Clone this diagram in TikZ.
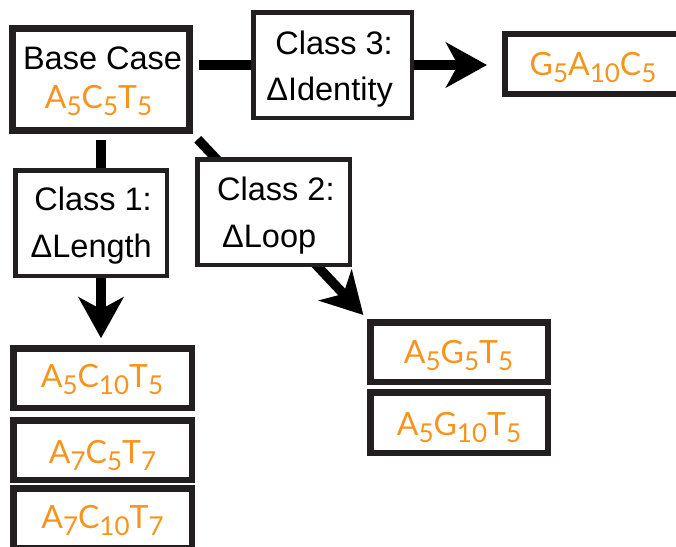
\documentclass[tikz,border=0pt]{standalone}
\usepackage{fontspec}
\setmainfont{Liberation Sans}
\newfontfamily\seqfont{Lato}
\usetikzlibrary{arrows.meta}
\definecolor{seqorange}{RGB}{247,148,29}
\definecolor{boxblack}{RGB}{35,31,32}
\newcommand\sq[1]{\raisebox{-7pt}{\fontsize{26}{26}\selectfont #1}}
\tikzset{
  boxthick/.style={draw=boxblack, line width=7pt, fill=white, inner sep=0pt, outer sep=0pt},
  boxthin/.style={draw=boxblack, line width=4.5pt, fill=white, inner sep=0pt, outer sep=0pt},
  boxseq/.style={draw=boxblack, line width=6.5pt, fill=white, inner sep=0pt, outer sep=0pt},
  lab/.style={inner sep=0pt, font=\fontsize{32.5}{32.5}\selectfont, text=black},
  seq/.style={inner sep=0pt, font=\seqfont\fontsize{32}{32}\selectfont, text=seqorange},
  conn/.style={line width=9.5pt, draw=black},
  arr/.style={conn, -{Stealth[length=41pt, width=45pt, inset=12pt]}},
}
\begin{document}
\begin{tikzpicture}[x=1pt, y=-1pt]
\useasboundingbox (0,0) rectangle (676,546);
\path[clip] (0,0) rectangle (676,546);
% boxes
\node[boxthick, minimum width=177pt, minimum height=102pt] (base) at (101,79.5) {};
\node[boxthin, minimum width=158.5pt, minimum height=105.5pt] (c3) at (332.5,65) {};
\node[boxseq, line width=6pt, minimum width=182pt, minimum height=60pt] (g) at (596,64) {};
\node[boxthin, minimum width=151.5pt, minimum height=105.5pt] (c1) at (91,223) {};
\node[boxthin, minimum width=152.5pt, minimum height=105.5pt] (c2) at (273.5,212) {};
\node[boxseq, minimum width=178.5pt, minimum height=59.5pt] (a1) at (102.5,378) {};
\node[boxseq, minimum width=178.5pt, minimum height=59.5pt] (a2) at (102.5,450) {};
\node[boxseq, minimum width=178.5pt, minimum height=59.5pt] (a3) at (102.5,518) {};
\node[boxseq, minimum width=177.5pt, minimum height=59.5pt] (b1) at (459,352) {};
\node[boxseq, minimum width=177.5pt, minimum height=60.5pt] (b2) at (459,422.5) {};
% connectors
\draw[conn, shorten <=9pt] (base.east |- c3.west) -- (c3.west);
\draw[arr, shorten >=18pt] (c3.east) -- (g.west |- c3.east);
\draw[conn, shorten <=9.5pt] (base.south) -- (base.south |- c1.north);
\draw[arr, shorten >=10pt] (base.south |- c1.south) -- (base.south |- a1.north);
\draw[arr, shorten <=12pt, shorten >=10pt] (base.south east) -- (b1.north west);
% class boxes on top of the connectors
\node[boxthin, minimum width=158.5pt, minimum height=105.5pt] (c3b) at (c3) {};
\node[boxthin, minimum width=151.5pt, minimum height=105.5pt] (c1b) at (c1) {};
\node[boxthin, minimum width=152.5pt, minimum height=105.5pt] (c2b) at (c2) {};
% texts
\node[lab, anchor=base] (t0) at (102.5,69) {Base Case};
\node[seq, anchor=base] (s0) at (98.5,108) {A\sq{5}C\sq{5}T\sq{5}};
\node[lab, anchor=base east] (t3a) at (393,54) {Class 3:};
\node[lab, anchor=base east] (t3b) at (393,100) {ΔIdentity};
\node[lab, anchor=base east] (t1a) at (152,210) {Class 1:};
\node[lab, anchor=base east] (t1b) at (152,257) {ΔLength};
\node[lab, anchor=base west] (t2a) at (217,200) {Class 2:};
\node[lab, anchor=base west] (t2b) at (222,247) {ΔLoop};
\node[seq, anchor=base] (sg) at (593,75) {G\sq{5}A\sq{10}C\sq{5}};
\node[seq, anchor=base] (sa1) at (102,387) {A\sq{5}C\sq{10}T\sq{5}};
\node[seq, anchor=base] (sa2) at (102.5,463) {A\sq{7}C\sq{5}T\sq{7}};
\node[seq, anchor=base] (sa3) at (102.5,528) {A\sq{7}C\sq{10}T\sq{7}};
\node[seq, anchor=base] (sb1) at (458.5,363) {A\sq{5}G\sq{5}T\sq{5}};
\node[seq, anchor=base] (sb2) at (459,435) {A\sq{5}G\sq{10}T\sq{5}};
\end{tikzpicture}
\end{document}
